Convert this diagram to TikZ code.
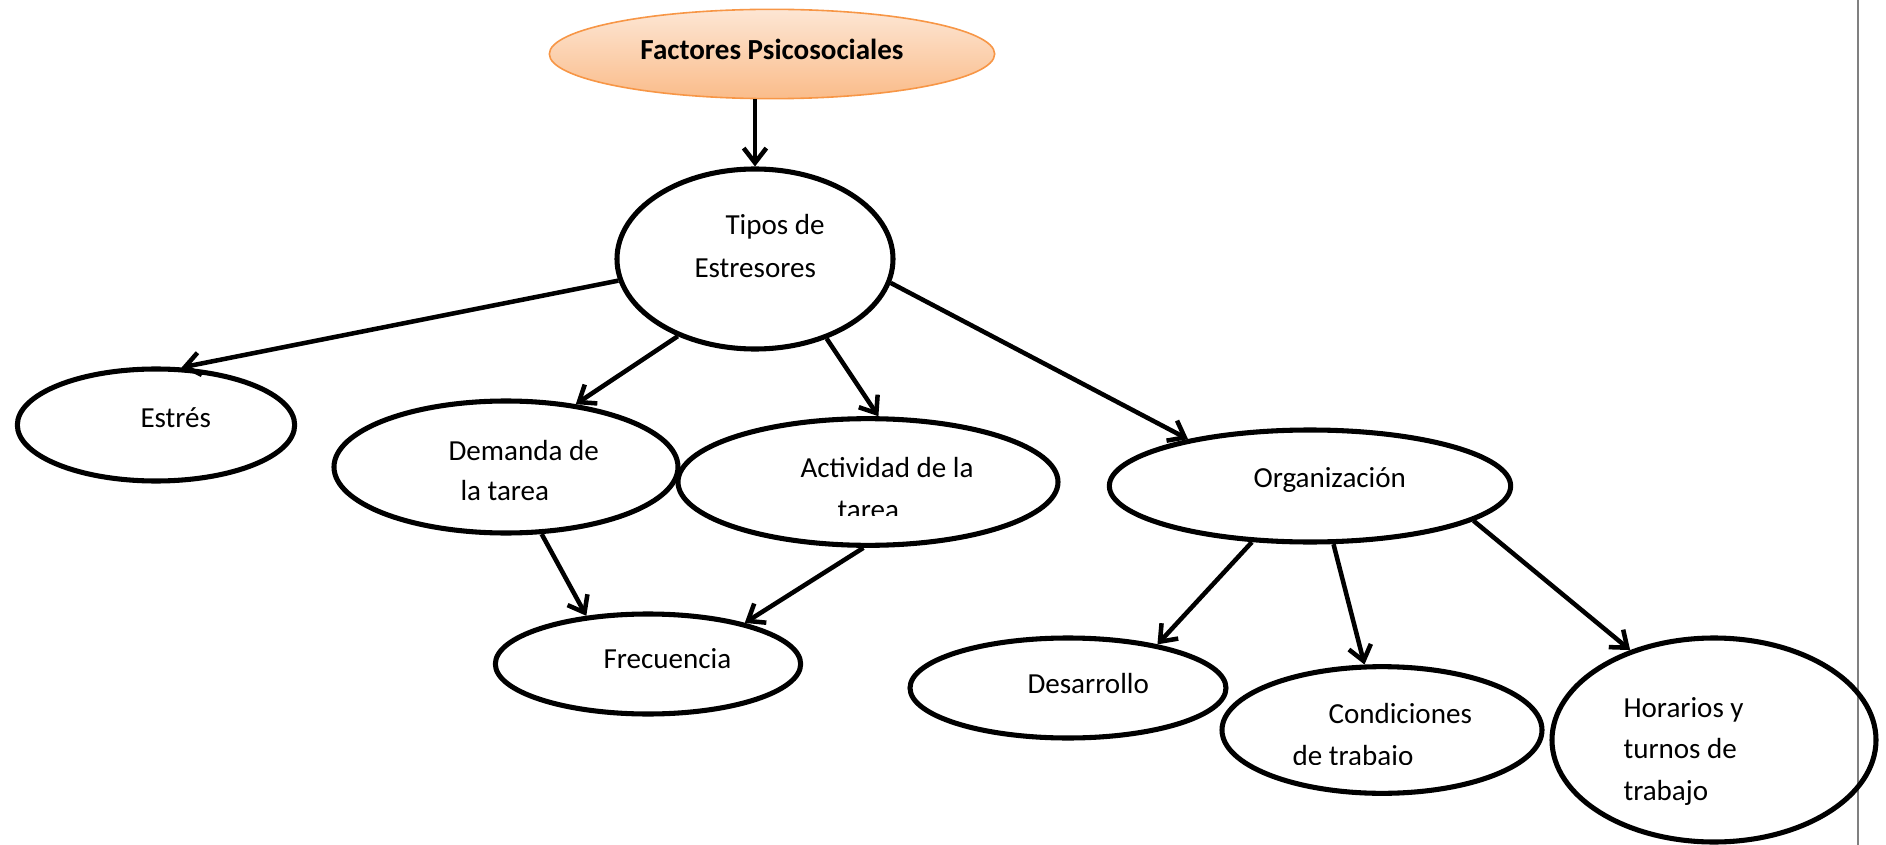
\documentclass[tikz,border=0pt]{standalone}
\usepackage{fontspec}
\setmainfont{Carlito}
\usetikzlibrary{shapes.geometric,arrows.meta}

\definecolor{naranjaA}{RGB}{253,230,212}
\definecolor{naranjaB}{RGB}{250,188,138}
\definecolor{naranjaL}{RGB}{247,150,70}

\tikzset{every picture/.style={line width=0.75pt}}
\tikzset{
  burbuja/.style={draw, ellipse, line width=3.8pt, inner sep=0pt},
  etiq/.style={anchor=base west, inner sep=0pt, font=\fontsize{21.8}{26}\selectfont},
  flecha/.style={line width=3.4pt, -{Straight Barb[length=11pt,width=17pt]}}
}

\begin{document}
\begin{tikzpicture}[x=0.75pt,y=0.75pt,yscale=-1,xscale=1]
\useasboundingbox (0,0) rectangle (1886,845);

%Right margin line
\draw [color=gray, line width=0.8pt] (1858,0) -- (1858,845);

%Shape: Ellipse [id:factores]
\node [ellipse, draw=naranjaL, line width=1.2pt, top color=naranjaA, bottom color=naranjaB, inner sep=0pt, minimum width=334pt, minimum height=67pt] (factores) at (772,54) {};
%Shape: Ellipse [id:tipos]
\node [burbuja, minimum width=207pt, minimum height=135pt] (tipos) at (755,259) {};
%Shape: Ellipse [id:estres]
\node [burbuja, minimum width=208pt, minimum height=84pt] (estres) at (156,425) {};
%Shape: Ellipse [id:demanda]
\node [burbuja, minimum width=258pt, minimum height=99pt] (demanda) at (506,467) {};
%Shape: Ellipse [id:actividad]
\node [burbuja, minimum width=285pt, minimum height=95pt] (actividad) at (868,482) {};
%Shape: Ellipse [id:organizacion]
\node [burbuja, minimum width=301pt, minimum height=84pt] (organizacion) at (1310,486) {};
%Shape: Ellipse [id:frecuencia]
\node [burbuja, minimum width=229pt, minimum height=75pt] (frecuencia) at (648,664) {};
%Shape: Ellipse [id:desarrollo]
\node [burbuja, minimum width=237pt, minimum height=75pt] (desarrollo) at (1068,688) {};
%Shape: Ellipse [id:condiciones]
\node [burbuja, minimum width=240pt, minimum height=95pt] (condiciones) at (1382,730) {};
%Shape: Ellipse [id:horarios]
\node [burbuja, minimum width=243pt, minimum height=153pt] (horarios) at (1714,740) {};

%Straight Lines
\draw [flecha] (tipos.north |- factores.south) -- (tipos.north);
\draw [flecha] (tipos.189.5) -- (estres.66);
\draw [flecha] (tipos.225.7) -- (demanda.42);
\draw [flecha] (tipos.312) -- (actividad.81.6);
\draw [flecha] (tipos.350) -- (organizacion.159.7);
\draw [flecha] (demanda.298.4) -- (frecuencia.142.4);
\draw [flecha] (actividad.266) -- (frecuencia.23.9);
\draw [flecha] (organizacion.224.5) -- (desarrollo.26.6);
\draw [flecha] (organizacion.292) -- (condiciones.105.8);
\draw [flecha] (organizacion.348) -- (horarios.133.3);

% Text Node
\node [etiq, anchor=base, font=\fontsize{21.8}{26}\selectfont\bfseries] (tFactores) at (772,60) {Factores Psicosociales};
% Text Node
\node [etiq] (tTiposA) at (725,234) {Tipos de};
\node [etiq] (tTiposB) at (694,277) {Estresores};
% Text Node
\node [etiq] (tEstres) at (140,427) {Estrés};
% Text Node
\node [etiq] (tDemandaA) at (448,460) {Demanda de};
\node [etiq] (tDemandaB) at (460,500) {la tarea};
% Text Node
\node [etiq] (tActividadA) at (800,477) {Actividad de la};
\begin{scope}
\clip (790,485) rectangle (930,515);
\node [etiq] (tActividadB) at (837,519) {tarea};
\end{scope}
% Text Node
\node [etiq] (tOrganizacion) at (1253,487) {Organización};
% Text Node
\node [etiq] (tFrecuencia) at (603,668) {Frecuencia};
% Text Node
\node [etiq] (tDesarrollo) at (1027,693) {Desarrollo};
% Text Node
\node [etiq] (tCondicionesA) at (1328,723) {Condiciones};
\begin{scope}
\clip (1280,730) rectangle (1450,764);
\node [etiq] (tCondicionesB) at (1292,765) {de trabajo};
\end{scope}
% Text Node
\node [etiq] (tHorariosA) at (1623,717) {Horarios y};
\node [etiq] (tHorariosB) at (1623,758) {turnos de};
\node [etiq] (tHorariosC) at (1623,800) {trabajo};

\end{tikzpicture}
\end{document}
